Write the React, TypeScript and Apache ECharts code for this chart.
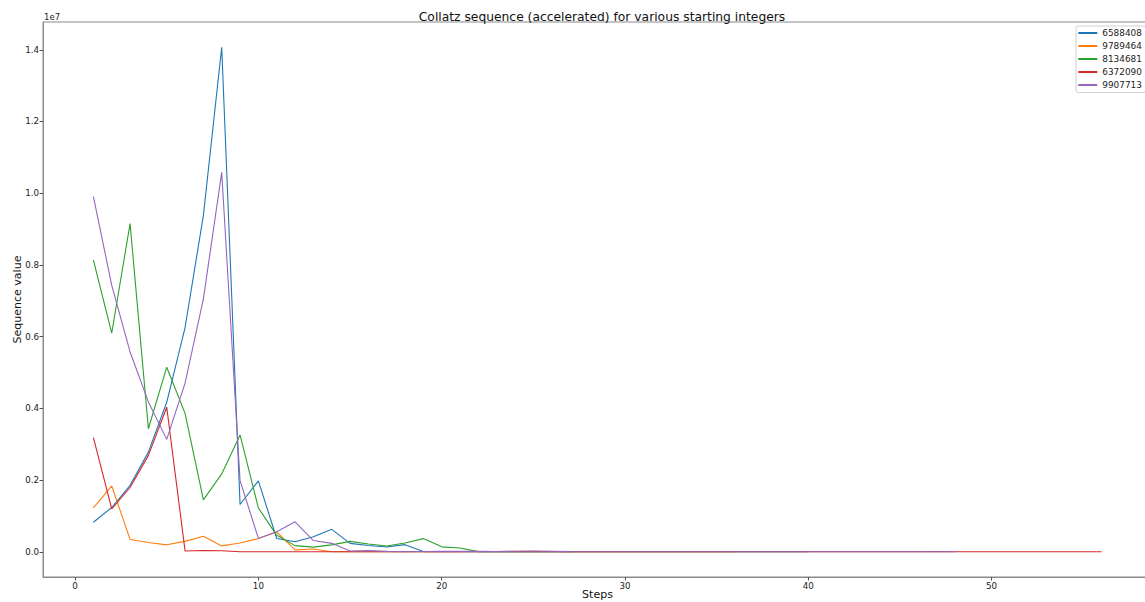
import React, { useEffect, useRef } from "react";
import * as echarts from "echarts";

const seriesNames = ["6588408", "9789464", "8134681", "6372090", "9907713"];
const seriesColors = ["#1f77b4", "#ff7f0e", "#2ca02c", "#d62728", "#9467bd"];

const seq6588408 = [823551, 1235327, 1852991, 2779487, 4169231, 6253847, 9380771, 14071157, 1319171, 1978757, 371017, 278263, 417395, 626093, 234785, 176089, 132067, 198101, 4643, 6965, 653, 245, 23, 35, 53, 5, 1];
const seq9789464 = [1223683, 1835525, 344161, 258121, 193591, 290387, 435581, 163343, 245015, 367523, 551285, 51683, 77525, 1817, 1363, 2045, 767, 1151, 1727, 2591, 3887, 5831, 8747, 13121, 9841, 7381, 173, 65, 49, 37, 7, 11, 17, 13, 5, 1];
const seq8134681 = [8134681, 6101011, 9151517, 3431819, 5147729, 3860797, 1447799, 2171699, 3257549, 1221581, 458093, 171785, 128839, 193259, 289889, 217417, 163063, 244595, 366893, 137585, 103189, 4837, 907, 1361, 1021, 383, 575, 863, 1295, 1943, 2915, 4373, 205, 77, 29, 11, 17, 13, 5, 1];
const seq6372090 = [3186045, 1194767, 1792151, 2688227, 4032341, 23627, 35441, 26581, 623, 935, 1403, 2105, 1579, 2369, 1777, 1333, 125, 47, 71, 107, 161, 121, 91, 137, 103, 155, 233, 175, 263, 395, 593, 445, 167, 251, 377, 283, 425, 319, 479, 719, 1079, 1619, 2429, 911, 1367, 2051, 3077, 577, 433, 325, 61, 23, 35, 53, 5, 1];
const seq9907713 = [9907713, 7430785, 5573089, 4179817, 3134863, 4702295, 7053443, 10580165, 1983781, 371959, 557939, 836909, 313841, 235381, 22067, 33101, 12413, 4655, 6983, 10475, 15713, 11785, 8839, 13259, 19889, 14917, 2797, 1049, 787, 1181, 443, 665, 499, 749, 281, 211, 317, 119, 179, 269, 101, 19, 29, 11, 17, 13, 5, 1];

const allSeqs = [seq6588408, seq9789464, seq8134681, seq6372090, seq9907713];

const xTicks = [0, 10, 20, 30, 40, 50];
const yTicks = [0, 2000000, 4000000, 6000000, 8000000, 10000000, 12000000, 14000000];

const FONT = "DejaVu Sans";

export default function App() {
  const ref = useRef<HTMLDivElement>(null);
  useEffect(() => {
    if (!ref.current) return;
    const chart = echarts.init(ref.current, undefined, { renderer: "svg" });
    const yMaxData = 14071157;
    const yMinData = 1;
    const yPad = (yMaxData - yMinData) * 0.05;
    chart.setOption({
      animation: false,
      backgroundColor: "#ffffff",
      title: {
        text: "Collatz sequence (accelerated) for various starting integers",
        left: 597,
        textAlign: "center",
        top: 6,
        textStyle: { fontFamily: FONT, fontSize: 12.3, fontWeight: "normal", color: "#111" },
      },
      graphic: [
        {
          type: "text",
          left: 44,
          top: 12,
          style: { text: "1e7", font: `8.5px ${FONT}`, fill: "#222" },
        },
      ],
      legend: {
        orient: "vertical",
        left: 1076,
        top: 26,
        padding: [1.5, 4, 2, 2.3],
        itemWidth: 19,
        itemHeight: 2,
        itemGap: 2,
        itemTextGap: 6.7,
        icon: "rect",
        borderColor: "#d0d0d0",
        borderWidth: 1,
        borderRadius: 2.5,
        backgroundColor: "rgba(255,255,255,0.8)",
        textStyle: { fontFamily: FONT, fontSize: 8.9, lineHeight: 11, color: "#222" },
        data: seriesNames,
      },
      grid: {
        left: 43,
        top: 22,
        right: -7,
        bottom: 25,
        outerBoundsMode: "none",
        containLabel: false,
        show: true,
        borderColor: "#8a8a8a",
        borderWidth: 1,
        backgroundColor: "transparent",
      },
      xAxis: {
        type: "value",
        min: -1.75,
        max: 58.75,
        name: "Steps",
        nameLocation: "middle",
        nameGap: 12,
        nameMoveOverlap: false,
        nameTextStyle: { fontFamily: FONT, fontSize: 11, color: "#111" },
        splitLine: { show: false },
        axisLine: { show: true, onZero: false, lineStyle: { color: "#8a8a8a", width: 1 } },
        axisTick: { show: true, inside: false, length: 3.5, customValues: xTicks, lineStyle: { color: "#555" } },
        axisLabel: {
          customValues: xTicks,
          margin: 4,
          fontFamily: FONT,
          fontSize: 8.7,
          color: "#222",
          formatter: (v: number) => String(v),
        },
      },
      yAxis: {
        type: "value",
        min: yMinData - yPad,
        max: yMaxData + yPad,
        name: "Sequence value",
        nameLocation: "middle",
        nameGap: 20,
        nameMoveOverlap: false,
        nameRotate: 90,
        nameTextStyle: { fontFamily: FONT, fontSize: 11, color: "#111" },
        splitLine: { show: false },
        axisLine: { show: true, onZero: false, lineStyle: { color: "#8a8a8a", width: 1 } },
        axisTick: { show: true, inside: false, length: 3.5, customValues: yTicks, lineStyle: { color: "#555" } },
        axisLabel: {
          customValues: yTicks,
          margin: 4,
          fontFamily: FONT,
          fontSize: 8.7,
          color: "#222",
          formatter: (v: number) => (v / 1e7).toFixed(1),
        },
      },
      series: allSeqs.map((seq, k) => ({
        name: seriesNames[k],
        type: "line",
        data: seq.map((v, i) => [i + 1, v]),
        showSymbol: false,
        symbol: "none",
        lineStyle: { width: 1.1, color: seriesColors[k] },
        itemStyle: { color: seriesColors[k] },
        emphasis: { disabled: true },
      })),
    });
    return () => chart.dispose();
  }, []);
  return (
    <div
      ref={ref}
      style={{ position: "absolute", left: 0, top: 0, width: 1145, height: 602 }}
    />
  );
}
